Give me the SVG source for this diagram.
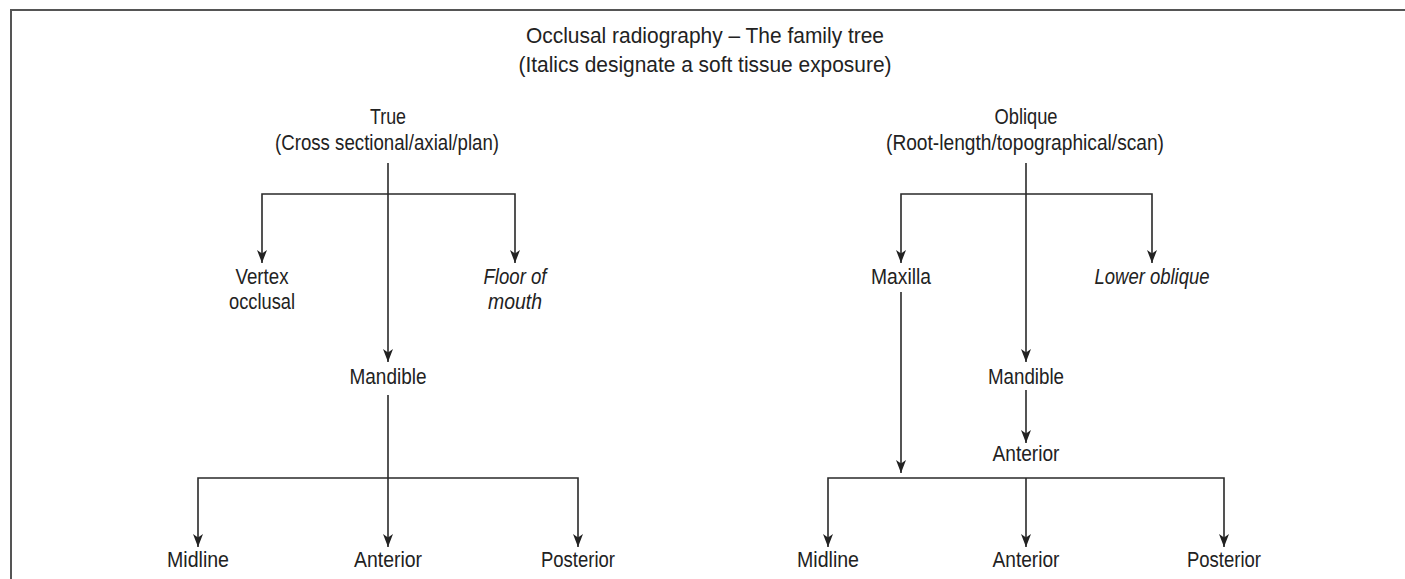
<svg xmlns="http://www.w3.org/2000/svg" width="1405" height="579" viewBox="0 0 1405 579">
  <style>
    text { font-family: "Liberation Sans", Arial, sans-serif; font-size: 22px; fill: #222; text-anchor: middle; }
    .it { font-style: italic; }
    .ln { stroke: #2a2a2a; stroke-width: 1.6; fill: none; }
    .arr { stroke: #2a2a2a; stroke-width: 1.6; fill: none; marker-end: url(#ah); }
    .frame { stroke: #555; stroke-width: 2; fill: none; }
  </style>
  <defs>
    <marker id="ah" markerUnits="userSpaceOnUse" markerWidth="16" markerHeight="12" viewBox="-14 -6 16 12" refX="0" refY="0" orient="auto">
      <path d="M0,0 L-13,-5 L-9.5,0 L-13,5 Z" fill="#222"/>
    </marker>
  </defs>
  <rect width="1405" height="579" fill="#fff"/>
  <g id="frame">
    <path class="frame" d="M11,579 L11,10 L1405,10"/>
  </g>
  <g id="title">
    <text x="705" y="43" textLength="358" lengthAdjust="spacingAndGlyphs">Occlusal radiography – The family tree</text>
    <text x="705" y="72" textLength="373" lengthAdjust="spacingAndGlyphs">(Italics designate a soft tissue exposure)</text>
  </g>
  <g id="connectors">
    <line class="arr" x1="388" y1="163" x2="388" y2="362"/>
    <path class="arr" d="M388,194 L262,194 L262,263"/>
    <path class="arr" d="M388,194 L515,194 L515,263"/>
    <path class="ln" d="M388,395 L388,478"/>
    <path class="arr" d="M388,478 L198,478 L198,547"/>
    <path class="arr" d="M388,478 L578,478 L578,547"/>
    <line class="arr" x1="388" y1="478" x2="388" y2="547"/>
    <line class="arr" x1="1026" y1="163" x2="1026" y2="362"/>
    <path class="arr" d="M1026,194 L901,194 L901,263"/>
    <path class="arr" d="M1026,194 L1152,194 L1152,263"/>
    <line class="arr" x1="901" y1="292" x2="901" y2="473"/>
    <line class="arr" x1="1026" y1="390" x2="1026" y2="443"/>
    <path class="arr" d="M1026,478 L828,478 L828,547"/>
    <path class="arr" d="M1026,478 L1224,478 L1224,547"/>
    <line class="arr" x1="1026" y1="478" x2="1026" y2="547"/>
  </g>
  <g id="true">
    <text x="388" y="124" textLength="36" lengthAdjust="spacingAndGlyphs">True</text>
    <text x="387" y="150" textLength="224" lengthAdjust="spacingAndGlyphs">(Cross sectional/axial/plan)</text>
  </g>
  <g id="vertex-occlusal">
    <text x="262" y="284" textLength="53" lengthAdjust="spacingAndGlyphs">Vertex</text>
    <text x="262" y="309" textLength="66" lengthAdjust="spacingAndGlyphs">occlusal</text>
  </g>
  <g id="floor-of-mouth">
    <text class="it" x="515" y="284" textLength="63" lengthAdjust="spacingAndGlyphs">Floor of</text>
    <text class="it" x="515" y="309" textLength="54" lengthAdjust="spacingAndGlyphs">mouth</text>
  </g>
  <g id="mandible-true">
    <text x="388" y="384" textLength="77" lengthAdjust="spacingAndGlyphs">Mandible</text>
  </g>
  <g id="midline-true">
    <text x="198" y="567" textLength="62" lengthAdjust="spacingAndGlyphs">Midline</text>
  </g>
  <g id="anterior-true">
    <text x="388" y="567" textLength="68" lengthAdjust="spacingAndGlyphs">Anterior</text>
  </g>
  <g id="posterior-true">
    <text x="578" y="567" textLength="74" lengthAdjust="spacingAndGlyphs">Posterior</text>
  </g>
  <g id="oblique">
    <text x="1026" y="124" textLength="63" lengthAdjust="spacingAndGlyphs">Oblique</text>
    <text x="1025" y="150" textLength="278" lengthAdjust="spacingAndGlyphs">(Root-length/topographical/scan)</text>
  </g>
  <g id="maxilla">
    <text x="901" y="284" textLength="60" lengthAdjust="spacingAndGlyphs">Maxilla</text>
  </g>
  <g id="lower-oblique">
    <text class="it" x="1152" y="284" textLength="115" lengthAdjust="spacingAndGlyphs">Lower oblique</text>
  </g>
  <g id="mandible-oblique">
    <text x="1026" y="384" textLength="76" lengthAdjust="spacingAndGlyphs">Mandible</text>
  </g>
  <g id="anterior-mandible-oblique">
    <text x="1026" y="461" textLength="67" lengthAdjust="spacingAndGlyphs">Anterior</text>
  </g>
  <g id="midline-oblique">
    <text x="828" y="567" textLength="62" lengthAdjust="spacingAndGlyphs">Midline</text>
  </g>
  <g id="anterior-oblique">
    <text x="1026" y="567" textLength="67" lengthAdjust="spacingAndGlyphs">Anterior</text>
  </g>
  <g id="posterior-oblique">
    <text x="1224" y="567" textLength="74" lengthAdjust="spacingAndGlyphs">Posterior</text>
  </g>
</svg>
